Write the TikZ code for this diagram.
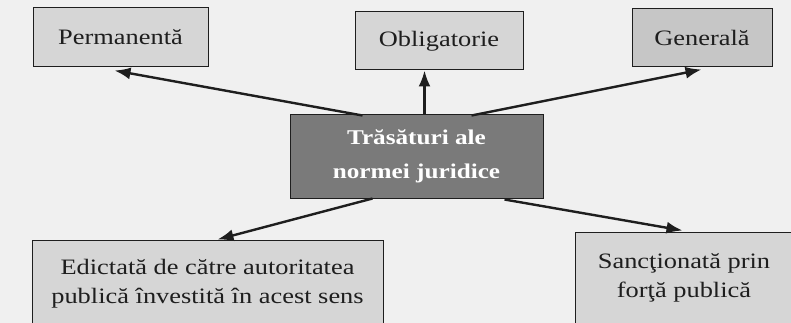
\documentclass[tikz,border=0pt]{standalone}
\usepackage{fontspec}
\setmainfont{Liberation Serif}[FakeStretch=1.2]
\usetikzlibrary{arrows.meta,calc}
\definecolor{bg}{HTML}{F0F0F0}
\definecolor{boxfill}{HTML}{D6D6D6}
\definecolor{boxfilldark}{HTML}{C6C6C6}
\definecolor{centerfill}{HTML}{7A7A7A}
\definecolor{ink}{HTML}{1E1E1E}
\tikzset{
  featbox/.style={draw=ink, line width=1pt, fill=boxfill, text=ink, align=center,
    inner sep=0pt, font=\fontsize{22}{29}\selectfont},
  boxtext/.style={text=ink, align=center, font=\fontsize{22}{29}\selectfont},
  mainbox/.style={draw=ink, line width=1pt, fill=centerfill, text=white, align=center,
    inner sep=0pt, font=\fontsize{21}{34}\selectfont\bfseries},
  arr/.style={draw=ink, line width=2.4pt, -{Latex[length=16pt,width=12pt]}}
}
\begin{document}
\begin{tikzpicture}[x=1pt,y=-1pt]
\useasboundingbox (0,0) rectangle (791,323);
\fill[bg] (0,0) rectangle (791,323);
\node[featbox, minimum width=175pt, minimum height=59pt] (perm) at (120.5,37.5) {Permanentă};
\node[featbox, minimum width=168pt, minimum height=58pt] (oblig) at (439,41) {Obligatorie};
\node[featbox, fill=boxfilldark, minimum width=140pt, minimum height=58pt] (gen) at (702,38) {Generală};
\node[mainbox, minimum width=253pt, minimum height=83pt] (c) at (416.5,156.5) {Trăsături ale\\normei juridice};
\node[featbox, minimum width=351pt, minimum height=92pt] (edict) at (207.5,286) {};
\node[boxtext] (edictt) at (207.5,284) {Edictată de către autoritatea\\publică învestită în acest sens};
\node[featbox, minimum width=220pt, minimum height=100pt] (sanc) at (685,282) {};
\node[boxtext] (sanct) at (684,278) {Sancţionată prin\\forţă publică};
\draw[arr] ($(c.north west)+(73,1)$) -- ($(perm.south west)+(82,3)$);
\draw[arr] ($(c.north west)+(135,0)$) -- ($(oblig.south west)+(70,0)$);
\draw[arr] ($(c.north west)+(182,1)$) -- ($(gen.south west)+(70,2)$);
\draw[arr] ($(c.south west)+(83,0)$) -- ($(edict.north west)+(186,0)$);
\draw[arr] ($(c.south west)+(215,1)$) -- ($(sanc.north west)+(108,-1)$);
\end{tikzpicture}
\end{document}
